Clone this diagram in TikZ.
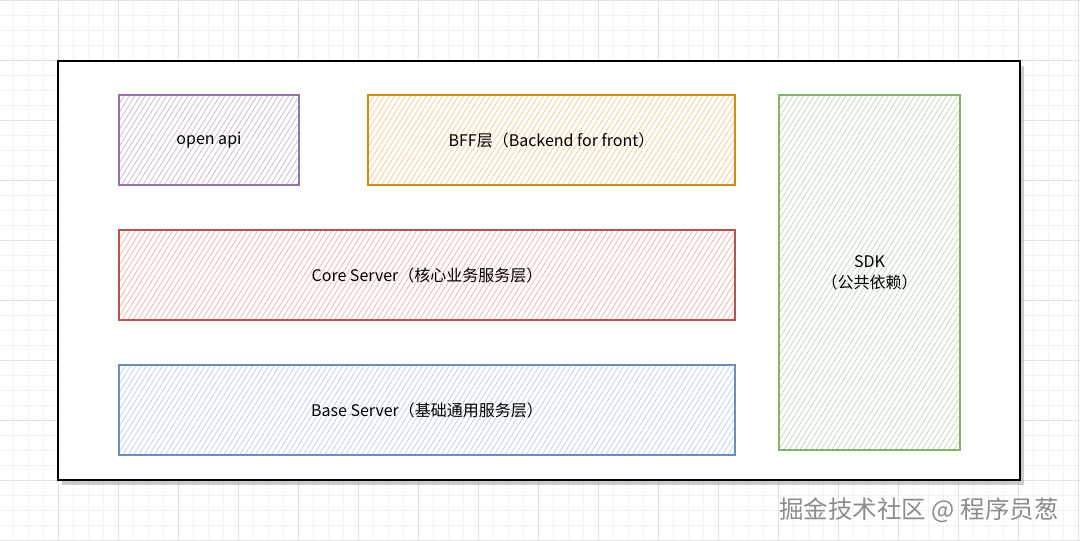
\documentclass[tikz,border=0pt]{standalone}
\usepackage{fontspec}
\setmainfont{Noto Sans CJK SC}
\usetikzlibrary{patterns.meta,shadows}
\definecolor{purpleline}{HTML}{9673A6}\definecolor{purplefill}{HTML}{CDB9D8}
\definecolor{orangeline}{HTML}{D08C10}\definecolor{orangefill}{HTML}{F9CC98}
\definecolor{greenline}{HTML}{82B366}\definecolor{greenfill}{HTML}{C2DBBE}
\definecolor{redline}{HTML}{B85450}\definecolor{redfill}{HTML}{F2B5B2}
\definecolor{blueline}{HTML}{6C8EBF}\definecolor{bluefill}{HTML}{BBD2F2}
\definecolor{gridminor}{HTML}{F3F3F3}\definecolor{gridmajor}{HTML}{E2E2E2}

\begin{document}
\begin{tikzpicture}[x=1pt,y=-1pt,
  layer/.style={draw=#1line, line width=1.4pt, inner sep=0pt, align=center,
    pattern={Lines[angle=58,distance=4.5pt,line width=0.8pt]}, pattern color=#1fill,
    font=\fontsize{16}{21}\selectfont},
  wide/.style={minimum width=616pt, minimum height=90pt}]
  \useasboundingbox (0,0) rectangle (1080,541);
  % background grid
  \foreach \x in {-2,13,...,1080} \draw[gridminor,line width=0.6pt] (\x,0) -- (\x,541);
  \foreach \y in {0,15,...,541} \draw[gridminor,line width=0.6pt] (0,\y) -- (1080,\y);
  \foreach \x in {-2,58,...,1080} \draw[gridmajor,line width=0.7pt] (\x,0) -- (\x,541);
  \foreach \y in {0,60,...,541} \draw[gridmajor,line width=0.7pt] (0,\y) -- (1080,\y);
  % outer frame
  \node[draw, line width=1.6pt, fill=white, minimum width=962pt, minimum height=419pt,
    drop shadow={shadow xshift=4pt, shadow yshift=-5pt, fill=black!45, opacity=0.45}] (frame) at (539,270.5) {};
  % layers
  \node[layer=purple, minimum width=180pt, minimum height=90pt] (openapi) at (209,140) {open api};
  \node[layer=orange, minimum width=367pt, minimum height=90pt] (bff) at (551.5,140) {BFF层（Backend for front）};
  \node[layer=red, wide] (core) at (427,275) {Core Server（核心业务服务层）};
  \node[layer=blue, wide] (base) at (427,410) {Base Server（基础通用服务层）};
  \node[layer=green, minimum width=181pt, minimum height=355pt] (sdk) at (869.5,272.5) {SDK\\（公共依赖）};
  % watermark
  \node[text=black!45, font=\fontsize{24.5}{28}\selectfont] (mark) at (919,510) {掘金技术社区 @ 程序员葱};
\end{tikzpicture}
\end{document}
